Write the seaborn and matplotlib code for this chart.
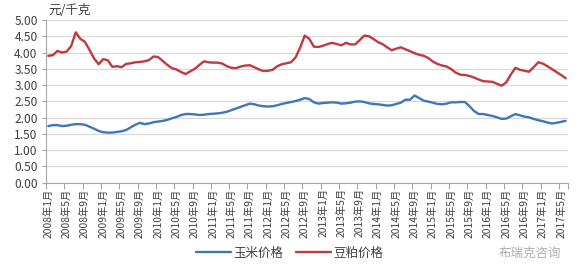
import numpy as np
import pandas as pd
import matplotlib
matplotlib.use("Agg")
import matplotlib.pyplot as plt
import seaborn as sns

# ---- data (monthly, 2008-01 .. 2017-06) ----
corn_price = [
    1.74, 1.77, 1.77, 1.74, 1.75, 1.78, 1.80, 1.80, 1.78, 1.72,
    1.66, 1.59, 1.55, 1.54, 1.54, 1.56, 1.58, 1.62, 1.70, 1.78,
    1.84, 1.80, 1.82, 1.86, 1.88, 1.90, 1.93, 1.98, 2.02, 2.08,
    2.11, 2.11, 2.10, 2.08, 2.09, 2.11, 2.12, 2.13, 2.15, 2.18,
    2.23, 2.28, 2.33, 2.38, 2.43, 2.41, 2.37, 2.35, 2.34, 2.35,
    2.38, 2.42, 2.45, 2.48, 2.51, 2.55, 2.60, 2.57, 2.47, 2.43,
    2.45, 2.46, 2.47, 2.46, 2.43, 2.44, 2.46, 2.49, 2.50, 2.48,
    2.44, 2.42, 2.41, 2.39, 2.37, 2.38, 2.42, 2.46, 2.55, 2.55,
    2.68, 2.60, 2.52, 2.49, 2.46, 2.42, 2.41, 2.43, 2.47, 2.47,
    2.48, 2.48, 2.35, 2.20, 2.11, 2.11, 2.08, 2.05, 2.01, 1.96,
    1.97, 2.04, 2.11, 2.07, 2.03, 2.01, 1.96, 1.92, 1.89, 1.85,
    1.82, 1.84, 1.87, 1.90,
]
soymeal_price = [
    3.90, 3.92, 4.05, 4.00, 4.03, 4.20, 4.62, 4.42, 4.33, 4.08,
    3.82, 3.64, 3.80, 3.76, 3.56, 3.58, 3.55, 3.65, 3.67, 3.70,
    3.71, 3.73, 3.77, 3.88, 3.86, 3.74, 3.62, 3.52, 3.48, 3.40,
    3.34, 3.42, 3.50, 3.62, 3.73, 3.70, 3.69, 3.69, 3.66, 3.58,
    3.53, 3.52, 3.57, 3.60, 3.61, 3.55, 3.48, 3.43, 3.44, 3.47,
    3.58, 3.64, 3.67, 3.70, 3.85, 4.15, 4.52, 4.42, 4.18, 4.17,
    4.21, 4.26, 4.30, 4.26, 4.22, 4.30, 4.25, 4.25, 4.38, 4.52,
    4.50, 4.42, 4.32, 4.26, 4.16, 4.07, 4.12, 4.16, 4.10, 4.04,
    3.98, 3.93, 3.90, 3.83, 3.72, 3.65, 3.60, 3.57, 3.49, 3.38,
    3.32, 3.31, 3.28, 3.23, 3.17, 3.12, 3.11, 3.10, 3.04, 2.98,
    3.08, 3.32, 3.53, 3.47, 3.44, 3.41, 3.55, 3.70, 3.66, 3.58,
    3.49, 3.40, 3.31, 3.21,
]
series_names = ["玉米价格", "豆粕价格"]
tick_labels = [
    "2008年1月", "2008年5月", "2008年9月", "2009年1月", "2009年5月", "2009年9月",
    "2010年1月", "2010年5月", "2010年9月", "2011年1月", "2011年5月", "2011年9月",
    "2012年1月", "2012年5月", "2012年9月", "2013年1月", "2013年5月", "2013年9月",
    "2014年1月", "2014年5月", "2014年9月", "2015年1月", "2015年5月", "2015年9月",
    "2016年1月", "2016年5月", "2016年9月", "2017年1月", "2017年5月",
]
y_ticks = [0.0, 0.5, 1.0, 1.5, 2.0, 2.5, 3.0, 3.5, 4.0, 4.5, 5.0]
unit_label = "元/千克"
watermark = "布瑞克咨询"

n = len(corn_price)
month_idx = np.arange(n)
df = pd.DataFrame({
    "month": np.concatenate([month_idx, month_idx]),
    "price": corn_price + soymeal_price,
    "series": [series_names[0]] * n + [series_names[1]] * n,
})

sns.set_theme(style="white")
plt.rcParams["font.family"] = ["Noto Sans CJK SC", "DejaVu Sans"]

fig = plt.figure(figsize=(5.78, 2.65), dpi=100)
ax = fig.add_axes([46 / 578, 1 - 182.7 / 265, (568 - 46) / 578, (182.7 - 20) / 265])

palette = {series_names[0]: "#4174B9", series_names[1]: "#C0393D"}
sns.lineplot(data=df, x="month", y="price", hue="series", palette=palette,
             linewidth=1.7, ax=ax, legend=True)

ax.set_xlim(-0.5, n - 0.5)
ax.set_ylim(0, 5.0)
ax.set_yticks(y_ticks)
ax.set_yticklabels([f"{v:.2f}" for v in y_ticks], fontsize=8.6, color="#404040")
major = np.arange(0, n, 4)
ax.set_xticks(major)
ax.set_xticklabels(tick_labels, rotation=90, fontsize=7.4, color="#404040")
ax.set_xticks(list(np.arange(-0.5, n, 4)) + [n - 0.5], minor=True)
ax.tick_params(axis="x", which="major", length=0, pad=4)
ax.tick_params(axis="x", which="minor", length=4, color="#a6a6a6", width=0.8, bottom=True)
ax.tick_params(axis="y", length=3, color="#a6a6a6", width=0.8, left=True, pad=3)
ax.set_xlabel("")
ax.set_ylabel("")

ax.yaxis.grid(True, color="#d9d9d9", linewidth=0.9)
ax.xaxis.grid(False)
ax.set_axisbelow(True)
for s in ["top", "right"]:
    ax.spines[s].set_visible(False)
for s in ["left", "bottom"]:
    ax.spines[s].set_color("#a6a6a6")
    ax.spines[s].set_linewidth(0.8)

ax.legend(loc="center", bbox_to_anchor=(290 / 578, 1 - 253 / 265),
          bbox_transform=fig.transFigure, ncol=2, frameon=False,
          fontsize=9, handlelength=2.8, columnspacing=1.0, handletextpad=0.2,
          labelcolor="#404040")

fig.text(48 / 578, 1 - 10 / 265, unit_label, fontsize=9, color="#404040",
         ha="left", va="center")
fig.text(530 / 578, 1 - 253 / 265, watermark, fontsize=9, color="#9a9a9a",
         ha="center", va="center", alpha=0.8)

fig.savefig("out.png", dpi=100)
